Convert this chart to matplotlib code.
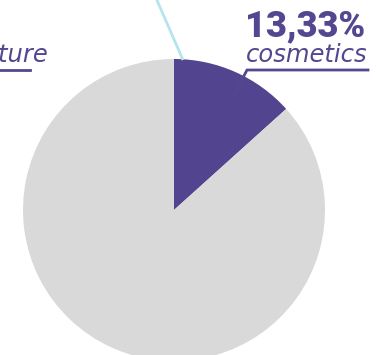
import matplotlib
matplotlib.use("Agg")
import matplotlib.pyplot as plt

labels = ["cosmetics", "other"]
shares = [13.33, 86.67]
colors = ["#52448e", "#d9d9d9"]
text_color = "#54468f"

W, H = 376, 355
fig = plt.figure(figsize=(W / 100, H / 100), dpi=100)
ax = fig.add_axes([0, 0, 1, 1])

# pie, clockwise from 12 o'clock, partly off the bottom edge
ax.pie(shares, colors=colors, startangle=90, counterclock=False,
       center=(174, H - 210), radius=151, frame=True,
       wedgeprops=dict(linewidth=0))
ax.set_xlim(0, W)
ax.set_ylim(0, H)
ax.axis("off")

# leader line of a tiny slice (cyan)
ax.plot([156, 183], [H + 2, H - 60], color="#b5e4ec", lw=2, solid_capstyle="butt")

# cosmetics label
ax.text(245, H - 36, f"{shares[0]:.2f}%".replace(".", ","), color=text_color,
        fontsize=26, fontweight="black", family="Roboto", ha="left", va="baseline")
ax.text(368, H - 62, labels[0], color=text_color, fontsize=17.5, style="italic",
        family="DejaVu Sans", ha="right", va="baseline")
ax.plot([368, 247, 233], [H - 70, H - 70, H - 97], color=text_color, lw=2)

# furniture label, mostly off canvas
ax.text(48, H - 62, "furniture", color=text_color, fontsize=17.5, style="italic",
        family="DejaVu Sans", ha="right", va="baseline")
ax.plot([-10, 30], [H - 70, H - 70], color=text_color, lw=2)

fig.savefig("out.png", dpi=100)
